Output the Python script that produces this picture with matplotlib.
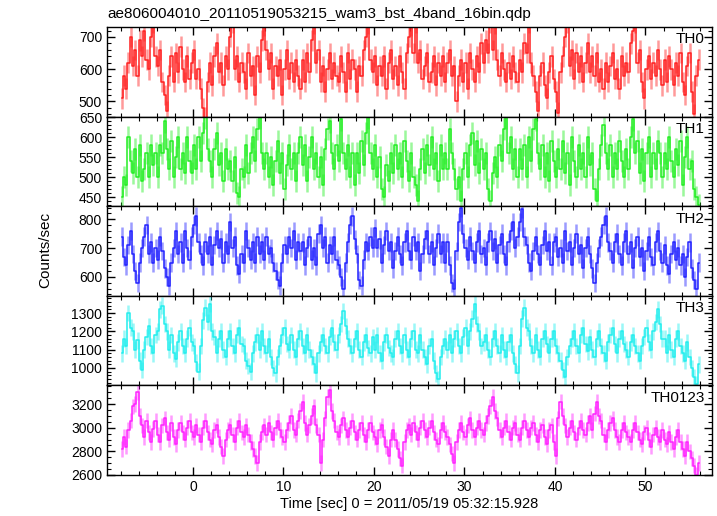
"""
WAM 4バンド光度曲線 (qdp) の再現
"""

import numpy as np
import matplotlib.pyplot as plt
from matplotlib.ticker import MultipleLocator

plt.rcParams['font.family'] = ['Liberation Sans', 'DejaVu Sans']

# 時間ビン (0.25 s, t0 = -8 s)
t_start = -8.0
bin_width = 0.25

# 各バンドの計数率 (counts/sec), 16ビン(4秒)ごとに1行
th0 = [
    510, 580, 540, 620, 700, 610, 660, 580, 690, 640, 720, 630, 600, 700, 745, 640,
    610, 660, 560, 520, 470, 580, 640, 560, 650, 590, 670, 600, 560, 640, 570, 620,
    660, 570, 600, 540, 480, 450, 560, 620, 550, 640, 680, 590, 620, 550, 640, 600,
    700, 745, 600, 640, 560, 620, 590, 540, 650, 580, 610, 520, 640, 590, 690, 735,
    660, 600, 650, 540, 610, 580, 630, 520, 600, 660, 570, 620, 560, 630, 580, 540,
    630, 560, 650, 590, 690, 740, 620, 660, 560, 610, 530, 600, 650, 570, 620, 580,
    560, 640, 590, 530, 650, 570, 630, 600, 530, 610, 580, 660, 700, 740, 630, 590,
    640, 550, 610, 580, 640, 540, 620, 660, 570, 610, 550, 640, 590, 540, 650, 700,
    735, 650, 745, 620, 660, 570, 610, 650, 560, 590, 640, 550, 620, 580, 640, 560,
    620, 660, 580, 610, 500, 580, 630, 560, 620, 540, 650, 600, 560, 640, 590, 680,
    620, 690, 650, 745, 660, 740, 630, 580, 650, 600, 560, 620, 570, 640, 590, 560,
    630, 590, 680, 650, 745, 620, 580, 530, 470, 580, 620, 550, 510, 590, 640, 570,
    530, 465, 590, 640, 700, 745, 610, 660, 570, 650, 590, 640, 560, 620, 680, 590,
    640, 580, 650, 560, 600, 540, 620, 560, 610, 650, 570, 600, 540, 640, 580, 620,
    590, 680, 720, 745, 620, 660, 560, 510, 600, 640, 570, 620, 580, 660, 600, 550,
    630, 560, 640, 600, 550, 620, 580, 650, 560, 520, 610, 650, 530, 460, 580, 630,
]
th1 = [
    450, 500, 480, 600, 540, 510, 570, 500, 580, 490, 520, 560, 500, 580, 530, 560,
    500, 580, 560, 640, 570, 520, 590, 500, 550, 600, 520, 560, 510, 600, 540, 510,
    580, 520, 600, 540, 610, 650, 570, 540, 500, 570, 610, 530, 560, 490, 570, 520,
    540, 490, 550, 460, 450, 520, 500, 580, 510, 560, 600, 540, 620, 650, 560, 520,
    560, 500, 550, 480, 540, 590, 510, 560, 470, 530, 580, 520, 560, 490, 560, 600,
    530, 580, 490, 550, 600, 520, 560, 500, 550, 480, 570, 620, 640, 560, 520, 580,
    540, 645, 560, 520, 580, 500, 560, 480, 560, 510, 590, 530, 610, 650, 560, 520,
    580, 500, 550, 470, 450, 530, 490, 560, 510, 580, 520, 560, 500, 590, 540, 490,
    560, 500, 480, 440, 520, 570, 510, 580, 530, 600, 520, 560, 490, 580, 520, 560,
    520, 620, 560, 520, 470, 500, 440, 520, 560, 500, 580, 610, 530, 590, 510, 570,
    520, 560, 470, 440, 510, 550, 500, 580, 540, 620, 650, 560, 600, 520, 570, 500,
    570, 520, 580, 500, 600, 540, 620, 645, 560, 520, 580, 500, 560, 490, 590, 540,
    500, 570, 520, 590, 510, 560, 480, 600, 540, 500, 580, 520, 560, 500, 600, 530,
    560, 470, 440, 520, 580, 630, 560, 520, 580, 500, 560, 520, 590, 540, 500, 570,
    520, 600, 645, 560, 590, 510, 570, 490, 560, 600, 500, 560, 520, 590, 560, 500,
    560, 520, 600, 540, 500, 570, 530, 590, 480, 550, 600, 520, 540, 470, 450, 430,
]
th2 = [
    740, 670, 640, 710, 760, 680, 620, 580, 650, 700, 740, 780, 680, 720, 650, 700,
    660, 740, 690, 630, 600, 570, 650, 700, 760, 680, 720, 650, 760, 700, 660, 740,
    780, 810, 720, 680, 640, 720, 680, 740, 640, 710, 760, 700, 730, 650, 720, 680,
    790, 700, 740, 640, 610, 680, 650, 760, 700, 660, 720, 650, 740, 680, 720, 660,
    740, 680, 700, 650, 620, 590, 570, 650, 710, 680, 740, 700, 760, 660, 720, 690,
    720, 640, 700, 740, 660, 700, 640, 750, 780, 700, 740, 650, 710, 680, 740, 660,
    640, 600, 560, 650, 720, 780, 810, 730, 680, 590, 570, 660, 720, 690, 740, 700,
    770, 700, 730, 650, 710, 760, 690, 720, 630, 690, 740, 680, 640, 720, 760, 690,
    660, 740, 690, 720, 620, 680, 730, 760, 680, 720, 640, 700, 750, 680, 720, 650,
    720, 640, 580, 560, 690, 790, 840, 750, 700, 660, 740, 690, 650, 720, 760, 680,
    700, 640, 720, 760, 690, 730, 650, 710, 750, 680, 640, 720, 760, 790, 700, 740,
    790, 835, 740, 710, 650, 620, 690, 740, 680, 640, 710, 760, 690, 720, 640, 720,
    740, 670, 700, 650, 760, 690, 720, 640, 700, 750, 680, 710, 630, 700, 740, 680,
    630, 580, 650, 700, 740, 780, 810, 720, 690, 650, 720, 750, 680, 640, 720, 760,
    680, 720, 630, 700, 740, 670, 700, 620, 690, 740, 670, 640, 720, 760, 690, 650,
    710, 640, 610, 680, 720, 660, 700, 640, 680, 600, 670, 720, 630, 590, 560, 650,
]
th3 = [
    1080, 1160, 1120, 1300, 1220, 1200, 1100, 1150, 1040, 990, 1100, 1170, 1230, 1120, 1080, 1180,
    1200, 1320, 1340, 1240, 1200, 1100, 1180, 1080, 1050, 1140, 1200, 1120, 1080, 1160, 1220, 1140,
    1120, 1030, 980, 1120, 1260, 1330, 1250, 1350, 1200, 1170, 1080, 1160, 1200, 1100, 1060, 1160,
    1200, 1120, 1080, 1180, 1220, 1130, 1120, 1040, 1010, 980, 1080, 1140, 1180, 1100, 1200, 1120,
    1080, 1160, 1060, 1000, 970, 1060, 1120, 1180, 1220, 1130, 1100, 1180, 1100, 1060, 1160, 1200,
    1120, 1080, 1180, 1100, 1060, 1020, 970, 1080, 1140, 1180, 1120, 1080, 1170, 1220, 1140, 1100,
    1180, 1240, 1310, 1230, 1160, 1120, 1080, 1160, 1200, 1100, 1060, 1140, 1180, 1110, 1080, 1170,
    1100, 1180, 1080, 1040, 1140, 1180, 1110, 1080, 1060, 1160, 1200, 1120, 1080, 1180, 1100, 1060,
    1160, 1200, 1100, 1080, 1180, 1100, 1060, 1020, 1120, 1160, 1040, 970, 940, 1060, 1120, 1160,
    1100, 1180, 1080, 1160, 1200, 1120, 1080, 1170, 1220, 1120, 1200, 1270, 1350, 1240, 1200, 1120,
    1140, 1180, 1100, 1060, 1160, 1200, 1120, 1080, 1180, 1100, 1060, 1140, 1180, 1080, 1020, 970,
    1120, 1270, 1330, 1220, 1200, 1120, 1080, 1180, 1100, 1060, 1160, 1200, 1130, 1080, 1160, 1200,
    1120, 1080, 1040, 990, 950, 1060, 1120, 1160, 1200, 1120, 1080, 1180, 1220, 1130, 1090, 1170,
    1100, 1060, 1160, 1200, 1120, 1080, 1040, 1140, 1180, 1220, 1130, 1080, 1160, 1200, 1130, 1100,
    1060, 1140, 1180, 1120, 1080, 1040, 1120, 1170, 1220, 1140, 1100, 1200, 1250, 1320, 1240, 1160,
    1160, 1080, 1180, 1100, 1060, 1160, 1200, 1120, 1080, 1040, 1140, 1060, 1000, 950, 910, 1020,
]
th0123 = [
    2820, 2920, 2840, 2980, 3060, 3180, 3200, 3300, 3100, 3020, 2920, 3060, 2960, 2880, 2990, 3060,
    2940, 2880, 3020, 3080, 2960, 2900, 3040, 2920, 2860, 2980, 3040, 2960, 2900, 3000, 3060, 2960,
    2920, 3020, 2940, 2880, 3000, 3060, 2960, 2900, 2860, 2980, 3020, 2920, 2840, 2760, 2900, 2980,
    3020, 2940, 2880, 3000, 3060, 2960, 2920, 3020, 2940, 2880, 2820, 2760, 2700, 2880, 2960, 3020,
    2940, 3040, 2960, 2900, 3000, 3060, 2980, 2920, 2880, 2980, 3040, 3100, 2980, 2940, 3060, 3140,
    3220, 3040, 2940, 3020, 3100, 3180, 3020, 2940, 2700, 2900, 3080, 3260, 3320, 3140, 3060, 2960,
    2920, 3020, 3080, 2980, 2920, 3000, 3060, 2960, 2900, 2980, 3040, 2940, 2880, 2980, 3040, 2960,
    2920, 2860, 2980, 3020, 2920, 2840, 2760, 2900, 2980, 2900, 2820, 2740, 2680, 2880, 2980, 3020,
    2940, 3040, 2960, 2900, 3000, 3060, 2980, 2920, 3000, 3060, 2960, 2900, 2860, 2980, 3040, 2960,
    2920, 2860, 2780, 2700, 2880, 2980, 3040, 2960, 2920, 3020, 3080, 2980, 2920, 3000, 3060, 2980,
    2940, 3040, 3100, 3180, 3260, 3140, 3080, 2980, 2920, 3000, 3060, 2960, 2900, 3000, 3040, 2940,
    2900, 3000, 3060, 2980, 2920, 3000, 3040, 2940, 2880, 2980, 3020, 2920, 2860, 2980, 3020, 2880,
    2760, 3080, 3220, 3100, 3020, 2920, 3000, 3060, 2960, 2900, 3000, 3060, 2980, 2940, 3040, 3100,
    2980, 3120, 3220, 3100, 3060, 2940, 2880, 2980, 3040, 3080, 2980, 2920, 2880, 2980, 3040, 2960,
    2920, 2880, 2980, 3040, 2960, 2900, 2860, 2960, 3000, 2900, 2840, 2940, 3000, 2920, 2880, 2980,
    2900, 2860, 2960, 2880, 2820, 2920, 2980, 2880, 2820, 2760, 2880, 2800, 2740, 2680, 2600, 2700,
]

band_names = ['TH0', 'TH1', 'TH2', 'TH3', 'TH0123']
band_errors = [32, 28, 32, 45, 65]
band_colors = ['#ff2020', '#22ee22', '#2222ff', '#22eeee', '#ff22ff']
band_ylims = [(453, 731), (427, 652), (535, 845), (905, 1394), (2600, 3358)]
band_major = [100, 50, 100, 100, 200]
band_minor = [20, 10, 20, 20, 50]

series = [th0, th1, th2, th3, th0123]

# 図の作成
fig = plt.figure(figsize=(7.17, 5.16), dpi=100)
gs = fig.add_gridspec(5, 1, left=0.1492, right=0.993, top=0.9477, bottom=0.0795, hspace=0)

axes = []
for k, name in enumerate(band_names):
    ax = fig.add_subplot(gs[k])
    axes.append(ax)
    vals = np.array(series[k], dtype=float)
    t = t_start + bin_width * (np.arange(len(vals)) + 0.5)
    col = band_colors[k]

    # 誤差棒 (薄い色) と階段状の光度曲線
    ax.vlines(t, vals - band_errors[k], vals + band_errors[k], colors=col, alpha=0.45, lw=1.8)
    ax.step(t, vals, where='mid', color=col, lw=1.1)

    ax.set_xlim(-9.5, 57.35)
    ax.set_ylim(*band_ylims[k])
    ax.xaxis.set_major_locator(MultipleLocator(10))
    ax.xaxis.set_minor_locator(MultipleLocator(2))
    ax.yaxis.set_major_locator(MultipleLocator(band_major[k]))
    ax.yaxis.set_minor_locator(MultipleLocator(band_minor[k]))
    ax.tick_params(which='both', direction='in', top=True, right=True, labelsize=10)
    ax.tick_params(which='major', length=6, width=1)
    ax.tick_params(which='minor', length=3, width=0.8)
    for sp in ax.spines.values():
        sp.set_linewidth(1.0)
    if k < 4:
        ax.tick_params(labelbottom=False)

    ax.text(0.988, 0.94, name, transform=ax.transAxes, ha='right', va='top', fontsize=11)

axes[-1].set_xlabel('Time [sec] 0 = 2011/05/19 05:32:15.928', fontsize=10.5, labelpad=2)

fig.text(107 / 717, 1 - 14 / 516, 'ae806004010_20110519053215_wam3_bst_4band_16bin.qdp',
         fontsize=11, ha='left', va='center')
fig.text(45 / 717, 1 - 250 / 516, 'Counts/sec', rotation=90, fontsize=11,
         ha='center', va='center')

plt.savefig('out.png', dpi=100)
plt.close()
